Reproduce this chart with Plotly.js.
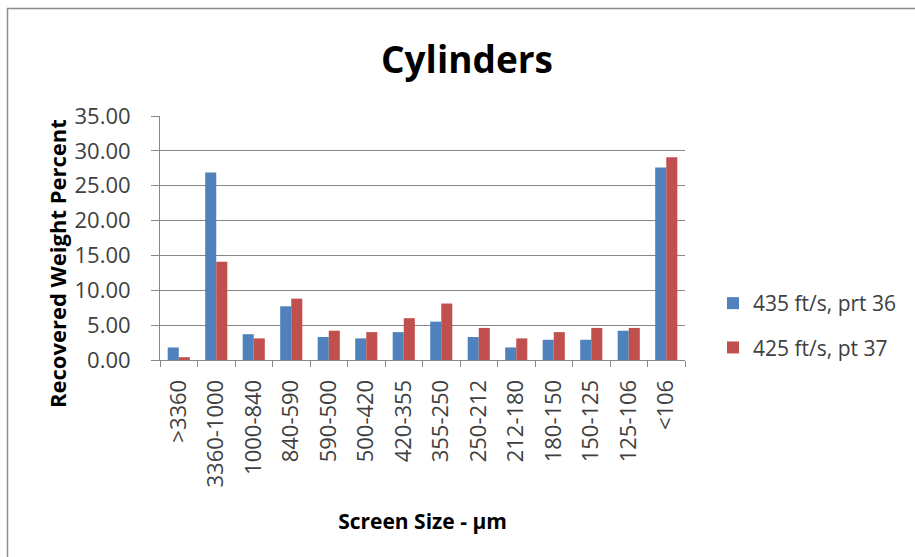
<!DOCTYPE html>
<html>
<head>
<meta charset="utf-8">
<script src="https://cdn.plot.ly/plotly-3.0.1.min.js"></script>
<style>
  html, body { margin: 0; padding: 0; background: #ffffff; }
  #chart { width: 915px; height: 557px; }
</style>
</head>
<body>
<div id="chart"></div>
<script>
const categories = [">3360", "3360-1000", "1000-840", "840-590", "590-500", "500-420", "420-355",
  "355-250", "250-212", "212-180", "180-150", "150-125", "125-106", "<106"];
const series1Name = "435 ft/s, prt 36";
const series1 = [1.8, 26.9, 3.7, 7.7, 3.3, 3.1, 4.0, 5.5, 3.3, 1.8, 2.9, 2.9, 4.2, 27.6];
const series2Name = "425 ft/s, pt 37";
const series2 = [0.4, 14.1, 3.1, 8.8, 4.2, 4.0, 6.0, 8.1, 4.6, 3.1, 4.0, 4.6, 4.6, 29.1];
const yTicks = [0, 5, 10, 15, 20, 25, 30, 35];

const FONT = "'Open Sans', 'Liberation Sans', sans-serif";
const gridColor = "#878787";

// plot area in pixels
const L = 160, R = 685, T = 116, B = 360;
const W = 915, H = 557;
const px2x = p => (p - L) / (R - L);
const px2y = p => (B - p) / (B - T);

const traces = [
  { type: "bar", x: categories, y: series1, name: series1Name, legendgroup: "a",
    marker: { color: "#4F81BD" }, hoverinfo: "x+y+name" },
  { type: "bar", x: categories, y: series2, name: series2Name, legendgroup: "b",
    marker: { color: "#C0504D" }, hoverinfo: "x+y+name" }
];

const layout = {
  width: W, height: H,
  margin: { l: L, r: W - R, t: T, b: H - B, pad: 0 },
  paper_bgcolor: "#ffffff", plot_bgcolor: "#ffffff",
  font: { family: FONT, color: "#404040" },
  barmode: "group", bargap: 0.41, bargroupgap: 0,
  title: { text: "<b>Cylinders</b>", font: { family: FONT, size: 37, color: "#000000" },
    xref: "container", x: 467 / W, xanchor: "center", yref: "container", y: 1 - 60 / H, yanchor: "middle" },
  xaxis: {
    type: "category", tickangle: -90, tickfont: { family: FONT, size: 22, color: "#404040" },
    showline: true, linecolor: gridColor, linewidth: 1,
    ticks: "outside", tickson: "boundaries", ticklen: 6, tickcolor: gridColor,
    showgrid: false, automargin: false, ticklabelstandoff: 10,
    title: { text: "<b>Screen Size - µm</b>", font: { family: FONT, size: 21, color: "#000000" }, standoff: 27 }
  },
  yaxis: {
    range: [0, 35], tickvals: yTicks, tickformat: ".2f", ticksuffix: "\u00a0",
    tickfont: { family: FONT, size: 22, color: "#404040" },
    showline: true, linecolor: gridColor, linewidth: 1,
    ticks: "outside", ticklen: 8, tickcolor: gridColor,
    showgrid: true, gridcolor: gridColor, gridwidth: 1, zeroline: false,
    automargin: false, ticklabelstandoff: 16
  },
  legend: {
    x: px2x(713), xanchor: "left", y: px2y(283), yanchor: "top",
    font: { family: FONT, size: 21, color: "#404040" },
    traceorder: "grouped", tracegroupgap: 14, bgcolor: "rgba(0,0,0,0)"
  },
  annotations: [
    { text: "<b>Recovered Weight Percent</b>", textangle: -90, showarrow: false,
      xref: "paper", yref: "paper", x: px2x(57), y: px2y(264), xanchor: "center", yanchor: "middle",
      font: { family: FONT, size: 22, color: "#000000" } }
  ],
  shapes: [
    { type: "rect", xref: "paper", yref: "paper", x0: px2x(7.5), x1: px2x(930), y0: px2y(8.5), y1: px2y(580),
      line: { color: "#8c8c8c", width: 1.5 }, fillcolor: "rgba(0,0,0,0)", layer: "below" }
  ],
  showlegend: true
};

Plotly.newPlot("chart", traces, layout, { displayModeBar: false, staticPlot: true });
</script>
</body>
</html>
